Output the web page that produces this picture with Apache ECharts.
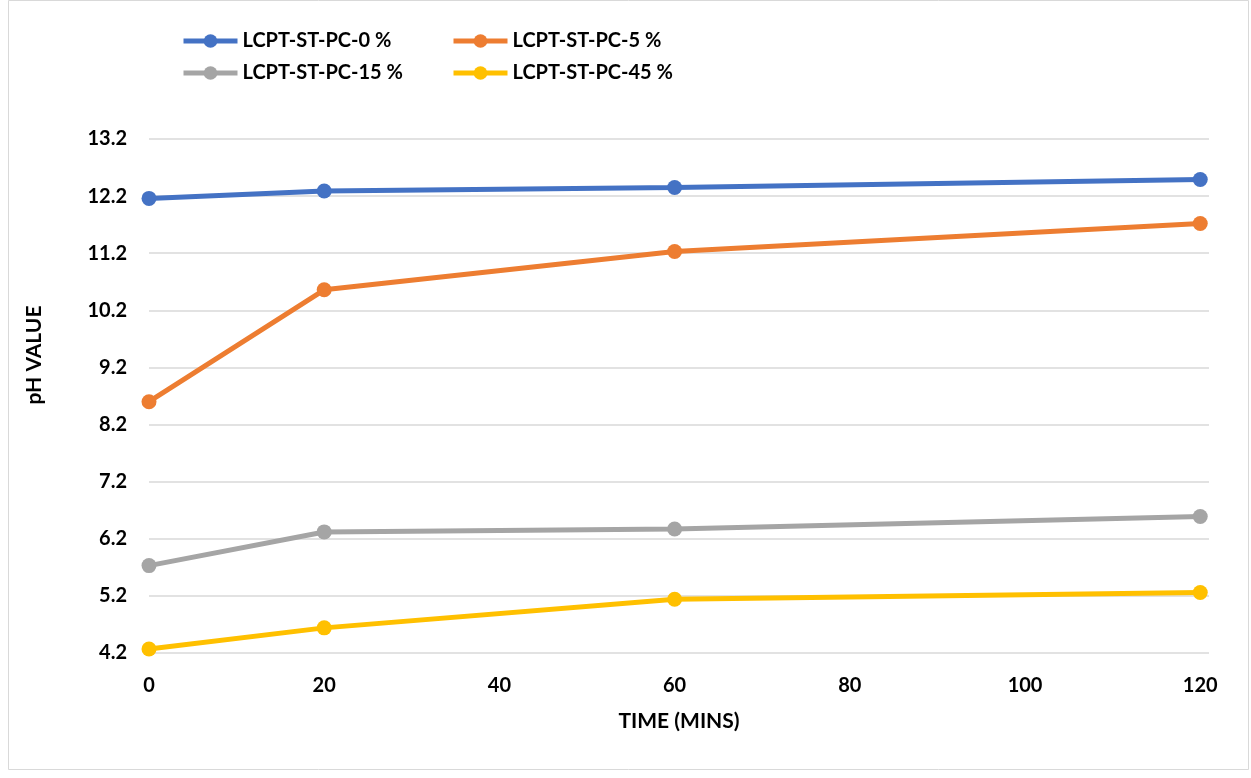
<!DOCTYPE html>
<html>
<head>
<meta charset="utf-8">
<script src="https://cdn.jsdelivr.net/npm/echarts@6/dist/echarts.min.js"></script>
<style>html,body{margin:0;padding:0;background:#fff;}#c{width:1251px;height:778px;}</style>
</head>
<body>
<div id="c"></div>
<script>
const times = [0, 20, 60, 120];
const seriesNames = ['LCPT-ST-PC-0 %', 'LCPT-ST-PC-5 %', 'LCPT-ST-PC-15 %', 'LCPT-ST-PC-45 %'];
const pc0 = [12.16, 12.29, 12.35, 12.49];
const pc5 = [8.60, 10.56, 11.23, 11.72];
const pc15 = [5.73, 6.32, 6.37, 6.59];
const pc45 = [4.27, 4.64, 5.14, 5.26];
const colors = ['#4472C4', '#ED7D31', '#A5A5A5', '#FFC000'];
const yTicks = [4.2, 5.2, 6.2, 7.2, 8.2, 9.2, 10.2, 11.2, 12.2, 13.2];
const xTicks = [0, 20, 40, 60, 80, 100, 120];

const allValues = [pc0, pc5, pc15, pc45];
const font = 'Lato, "Open Sans", sans-serif';

const chart = echarts.init(document.getElementById('c'), null, {renderer: 'canvas'});
const legendPos = [[176, 26], [446, 26], [176, 58], [446, 58]];
const option = {
  backgroundColor: '#fff',
  animation: false,
  graphic: [{
    type: 'rect', shape: {x: 8.5, y: 0.5, width: 1240, height: 769},
    style: {fill: 'none', stroke: '#d9d9d9', lineWidth: 1}
  }],
  legend: seriesNames.map((n, i) => ({
    data: [n], left: legendPos[i][0], top: legendPos[i][1],
    itemWidth: 54, itemHeight: 17, itemGap: 8,
    lineStyle: {width: 5},
    textStyle: {fontFamily: font, fontWeight: 'bold', fontSize: 20, color: '#000'}
  })),
  grid: {left: 149, right: 42, top: 139, bottom: 125, containLabel: false},
  xAxis: {
    type: 'value', min: 0, max: 121, interval: 20,
    axisLine: {show: false}, axisTick: {show: false}, splitLine: {show: false},
    axisLabel: {
      margin: 23, fontFamily: font, fontWeight: 'bold', fontSize: 20, color: '#000',
      formatter: v => xTicks.indexOf(v) >= 0 ? String(v) : ''
    },
    name: 'TIME (MINS)', nameLocation: 'middle', nameGap: 58,
    nameTextStyle: {fontFamily: font, fontWeight: 'bold', fontSize: 21, color: '#000'}
  },
  yAxis: {
    type: 'value', min: yTicks[0], max: yTicks[yTicks.length - 1], interval: 1,
    axisLine: {show: false}, axisTick: {show: false},
    splitLine: {lineStyle: {color: '#d9d9d9', width: 1.5}},
    axisLabel: {
      margin: 22, fontFamily: font, fontWeight: 'bold', fontSize: 20, color: '#000',
      formatter: v => v.toFixed(1)
    },
    name: 'pH VALUE', nameLocation: 'middle', nameGap: 104,
    nameTextStyle: {fontFamily: font, fontWeight: 'bold', fontSize: 21, color: '#000', padding: [0, 0, 0, 82]}
  },
  series: seriesNames.map((n, i) => ({
    name: n, type: 'line',
    data: times.map((t, j) => [t, allValues[i][j]]),
    symbol: 'circle', symbolSize: 15,
    lineStyle: {color: colors[i], width: 5},
    itemStyle: {color: colors[i]}
  }))
};
chart.setOption(option);
</script>
</body>
</html>
